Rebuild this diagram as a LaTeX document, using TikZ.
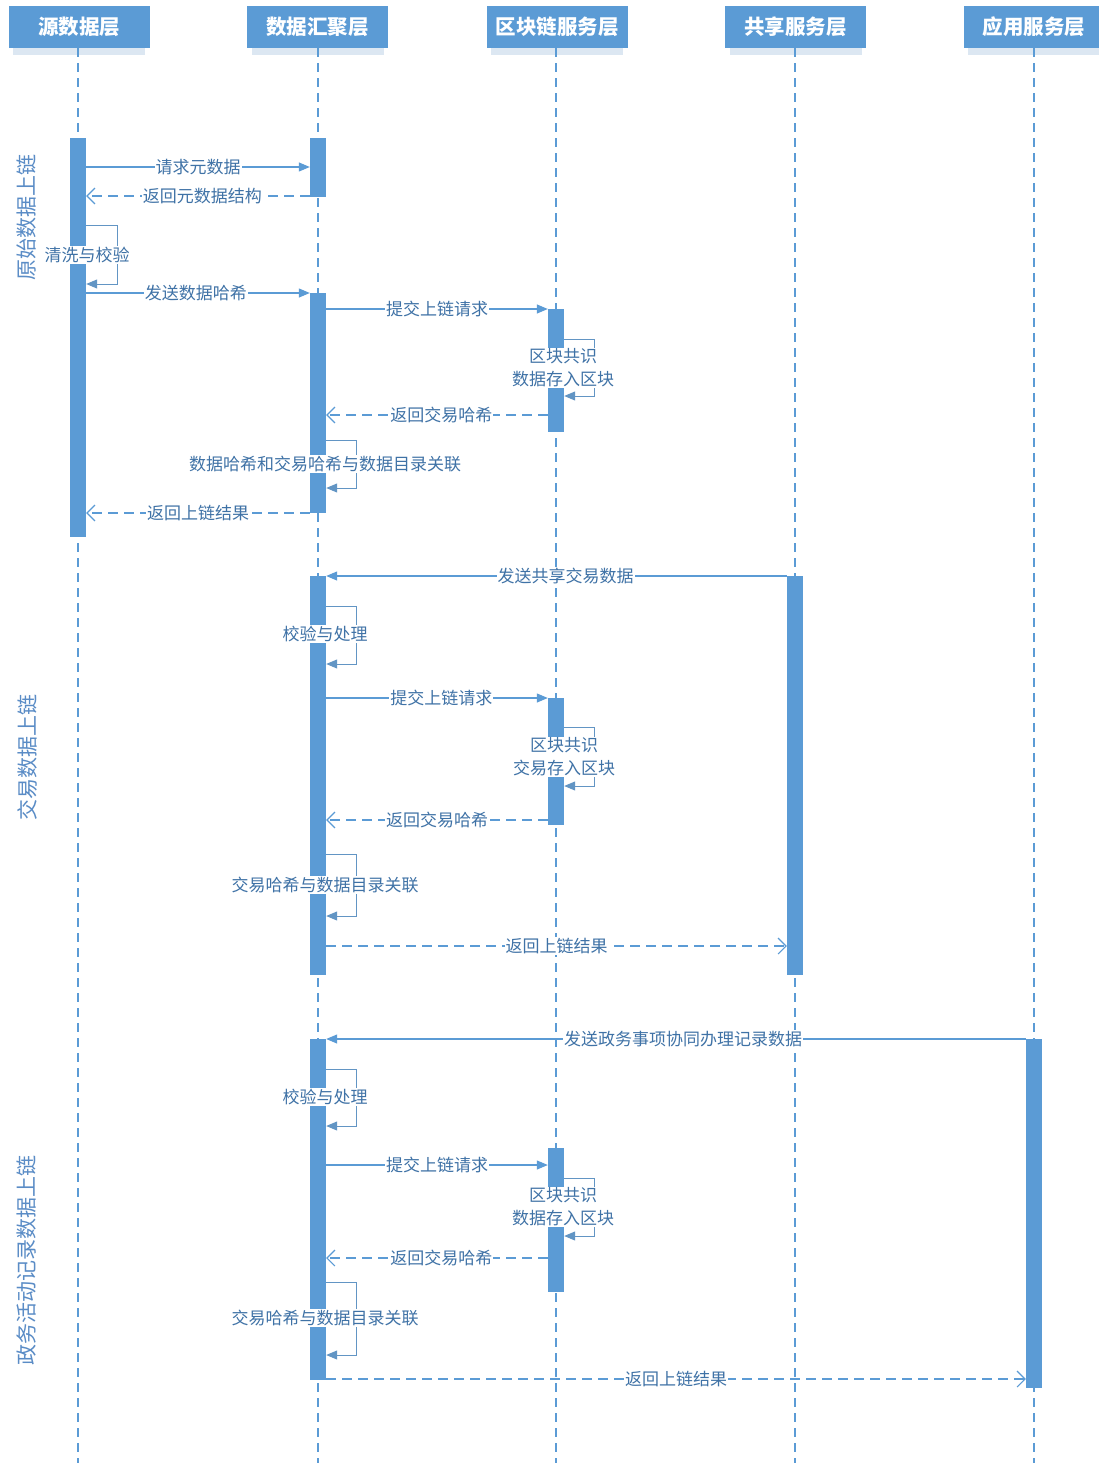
\documentclass[tikz,border=0pt]{standalone}
\usepackage{fontspec}
\setmainfont{Noto Sans CJK SC}
\usetikzlibrary{arrows.meta}
\definecolor{bl}{HTML}{5B9BD5}
\definecolor{tx}{HTML}{3F72A6}
\definecolor{vl}{HTML}{5A8CC6}
\definecolor{shd}{HTML}{DCE7F2}
\begin{document}
\begin{tikzpicture}[x=1pt,y=-1pt,
 hdr/.style={fill=bl, text=white, font=\fontsize{20.5}{22}\selectfont\bfseries, minimum width=141pt, minimum height=42pt, inner sep=0pt},
 life/.style={draw=bl, line width=1.3pt, dash pattern=on 9pt off 6pt},
 actbar/.style={fill=bl, draw=none, minimum width=16pt, inner sep=0pt},
 msg/.style={draw=bl, line width=1.1pt, -{Triangle[length=11pt,width=9pt]}},
 ret/.style={draw=bl, line width=1.1pt, dash pattern=on 10pt off 6pt, -{Straight Barb[length=8pt,width=16pt,line width=1.1pt]}},
 selfl/.style={draw=bl!80!gray, line width=1pt, -{Triangle[length=11pt,width=9pt]}},
 lbl/.style={fill=white, text=tx, inner sep=1pt, font=\fontsize{17}{23}\selectfont, align=center},
 vlab/.style={text=vl, rotate=90, font=\fontsize{21}{23}\selectfont}
]
\useasboundingbox (0,0) rectangle (1099,1463);
\fill[white] (0,0) rectangle (1099,1463);
% header shadows
\foreach \cx in {79,317.5,557,795.5,1034}{
  \fill[shd] (\cx-66,48) rectangle (\cx+66,55);
}
% headers
\node[hdr] (h1) at (79,27) {源数据层};
\node[hdr] (h2) at (317.5,27) {数据汇聚层};
\node[hdr] (h3) at (557,27) {区块链服务层};
\node[hdr] (h4) at (795.5,27) {共享服务层};
\node[hdr] (h5) at (1034,27) {应用服务层};
% lifelines
\coordinate (e1) at (78,1463);
\coordinate (e2) at (318,1463);
\coordinate (e3) at (556,1463);
\coordinate (e4) at (795,1463);
\coordinate (e5) at (1034,1463);
\draw[life] (h1.south -| e1) -- (e1);
\draw[life] (h2.south -| e2) -- (e2);
\draw[life] (h3.south -| e3) -- (e3);
\draw[life] (h4.south -| e4) -- (e4);
\draw[life] (h5.south -| e5) -- (e5);
% activation bars
\node[actbar, minimum height=399pt] (sA) at (78,337.5) {};
\node[actbar, minimum height=59pt] (g1) at (318,167.5) {};
\node[actbar, minimum height=220pt] (g2) at (318,403) {};
\node[actbar, minimum height=123pt] (b1) at (556,370.5) {};
\node[actbar, minimum height=399pt] (g3) at (318,775.5) {};
\node[actbar, minimum height=399pt] (sh) at (795,775.5) {};
\node[actbar, minimum height=127pt] (b2) at (556,761.5) {};
\node[actbar, minimum height=341pt] (g4) at (318,1209.5) {};
\node[actbar, minimum height=349pt] (ap) at (1034,1213.5) {};
\node[actbar, minimum height=144pt] (b3) at (556,1220) {};
% vertical section labels
\node[vlab] (v1) at (27,217) {原始数据上链};
\node[vlab] (v2) at (27,757) {交易数据上链};
\node[vlab] (v3) at (27,1260) {政务活动记录数据上链};
% ===== section 1 =====
\draw[msg] (sA.east |- 0,167) -- node[lbl] (t1) {请求元数据} (g1.west |- 0,167);
\draw[ret] (g1.west |- 0,196) -- node[lbl, pos=0.48] (t2) {返回元数据结构} (sA.east |- 0,196);
\draw[selfl] (sA.east |- 0,226) -- (117,226) |- (sA.east |- 0,284);
\node[lbl] (t3) at (87,255) {清洗与校验};
\draw[msg] (sA.east |- 0,293) -- node[lbl, pos=0.49] (t4) {发送数据哈希} (g2.west |- 0,293);
\draw[msg] (g2.east |- 0,309) -- node[lbl] (t5) {提交上链请求} (b1.west |- 0,309);
\draw[selfl] (b1.east |- 0,339) -- (594,339) |- (b1.east |- 0,396);
\node[lbl] (t6) at (563,368) {区块共识\\数据存入区块};
\draw[ret] (b1.west |- 0,415) -- node[lbl, pos=0.48] (t7) {返回交易哈希} (g2.east |- 0,415);
\draw[selfl] (g2.east |- 0,440) -- (356,440) |- (g2.east |- 0,488);
\node[lbl] (t8) at (325,464) {数据哈希和交易哈希与数据目录关联};
\draw[ret] (g2.west |- 0,513) -- node[lbl] (t9) {返回上链结果} (sA.east |- 0,513);
% ===== section 2 =====
\draw[msg] (sh.west |- 0,576) -- node[lbl, pos=0.48] (u1) {发送共享交易数据} (g3.east |- 0,576);
\draw[selfl] (g3.east |- 0,606) -- (356,606) |- (g3.east |- 0,664);
\node[lbl] (u2) at (325,634) {校验与处理};
\draw[msg] (g3.east |- 0,698) -- node[lbl, pos=0.52] (u3) {提交上链请求} (b2.west |- 0,698);
\draw[selfl] (b2.east |- 0,727) -- (594,727) |- (b2.east |- 0,786);
\node[lbl] (u4) at (564,757) {区块共识\\交易存入区块};
\draw[ret] (b2.west |- 0,820) -- node[lbl, pos=0.5] (u5) {返回交易哈希} (g3.east |- 0,820);
\draw[selfl] (g3.east |- 0,854) -- (356,854) |- (g3.east |- 0,916);
\node[lbl] (u6) at (325,885) {交易哈希与数据目录关联};
\draw[ret] (g3.east |- 0,946) -- node[lbl] (u7) {返回上链结果} (sh.west |- 0,946);
% ===== section 3 =====
\draw[msg] (ap.west |- 0,1039) -- node[lbl, pos=0.49] (w1) {发送政务事项协同办理记录数据} (g4.east |- 0,1039);
\draw[selfl] (g4.east |- 0,1069) -- (356,1069) |- (g4.east |- 0,1126);
\node[lbl] (w2) at (325,1097) {校验与处理};
\draw[msg] (g4.east |- 0,1165) -- node[lbl] (w3) {提交上链请求} (b3.west |- 0,1165);
\draw[selfl] (b3.east |- 0,1178) -- (594,1178) |- (b3.east |- 0,1236);
\node[lbl] (w4) at (563,1207) {区块共识\\数据存入区块};
\draw[ret] (b3.west |- 0,1258) -- node[lbl, pos=0.48] (w5) {返回交易哈希} (g4.east |- 0,1258);
\draw[selfl] (g4.east |- 0,1282) -- (356,1282) |- (g4.east |- 0,1355);
\node[lbl] (w6) at (325,1318) {交易哈希与数据目录关联};
\draw[ret] (g4.east |- 0,1379) -- node[lbl] (w7) {返回上链结果} (ap.west |- 0,1379);
\end{tikzpicture}
\end{document}
